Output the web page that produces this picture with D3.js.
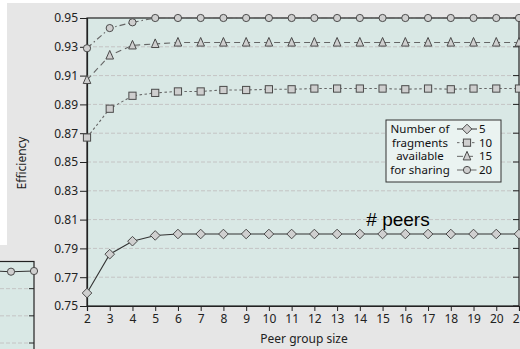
<!DOCTYPE html>
<html>
<head>
<meta charset="utf-8">
<script src="https://cdn.jsdelivr.net/npm/d3@7"></script>
<style>
  html, body { margin: 0; padding: 0; background: #fff; }
  svg { display: block; font-family: "Noto Sans", sans-serif; }
</style>
</head>
<body>
<div id="chart"></div>
<script>
// peer group sizes on the x axis
const peerSizes = [2,3,4,5,6,7,8,9,10,11,12,13,14,15,16,17,18,19,20,21];

// efficiency per number of fragments available for sharing
const eff5  = [0.759,0.786,0.795,0.799,0.800,0.800,0.800,0.800,0.800,0.800,0.800,0.800,0.800,0.800,0.800,0.800,0.800,0.800,0.800,0.800];
const eff10 = [0.867,0.887,0.896,0.898,0.899,0.899,0.900,0.900,0.9005,0.9005,0.901,0.901,0.901,0.901,0.9005,0.901,0.9005,0.901,0.901,0.901];
const eff15 = [0.907,0.924,0.931,0.932,0.933,0.933,0.933,0.933,0.933,0.933,0.933,0.933,0.933,0.933,0.933,0.933,0.933,0.933,0.933,0.933];
const eff20 = [0.929,0.943,0.947,0.950,0.950,0.950,0.950,0.950,0.950,0.950,0.950,0.950,0.950,0.950,0.950,0.950,0.950,0.950,0.950,0.950];

const yTicks = [0.75,0.77,0.79,0.81,0.83,0.85,0.87,0.89,0.91,0.93,0.95];
const legendLines = ["Number of","fragments","available","for sharing"];

// piece of the neighbouring chart peeking in at bottom-left
const insetSizes = [19,20];
const insetVals = [0.7825,0.783];
const insetTicks = [0.73,0.75,0.77];

const series = [
  {name:"5",  values:eff5,  dash:null,        shape:"diamond",  stroke:"#333"},
  {name:"10", values:eff10, dash:"2.5,2.5",   shape:"square",   stroke:"#666"},
  {name:"15", values:eff15, dash:"6,4",       shape:"triangle", stroke:"#666"},
  {name:"20", values:eff20, dash:"6,3,1.5,3", shape:"circle",   stroke:"#666"}
];

const W = 520, H = 349;
const svg = d3.select("#chart").append("svg").attr("width", W).attr("height", H);

// page background
svg.append("rect").attr("width", W).attr("height", H).attr("fill", "#fff");
svg.append("rect").attr("x", 7).attr("y", 3).attr("width", W).attr("height", H).attr("fill", "#e6e6e6");
svg.append("rect").attr("x", 0).attr("y", 245).attr("width", 7).attr("height", H).attr("fill", "#e6e6e6");

const x = d3.scaleLinear().domain([2,21]).range([87,519]);
const y = d3.scaleLinear().domain([0.75,0.95]).range([306,18]);

// plot panel
svg.append("rect")
  .attr("x", x(2)).attr("y", y(0.95))
  .attr("width", x(21)-x(2)).attr("height", y(0.75)-y(0.95))
  .attr("fill", "#d9e8e5");

// grid
svg.append("g").selectAll("line").data(yTicks.slice(1,-1)).join("line")
  .attr("x1", x(2)).attr("x2", x(21))
  .attr("y1", d=>y(d)).attr("y2", d=>y(d))
  .attr("stroke", "#c4c4c4").attr("stroke-width", 1).attr("stroke-dasharray", "4,2");

// frame
svg.append("rect")
  .attr("x", x(2)).attr("y", y(0.95))
  .attr("width", x(21)-x(2)).attr("height", y(0.75)-y(0.95))
  .attr("fill", "none").attr("stroke", "#222").attr("stroke-width", 1.2);

// right side inner ticks
svg.append("g").selectAll("line").data(yTicks).join("line")
  .attr("x1", x(21)-6).attr("x2", x(21))
  .attr("y1", d=>y(d)).attr("y2", d=>y(d))
  .attr("stroke", "#222");

// axes
const yAxis = d3.axisLeft(y).tickValues(yTicks).tickFormat(d3.format(".2f")).tickSize(7).tickPadding(2);
const gy = svg.append("g").attr("transform", `translate(${x(2)},0)`).call(yAxis);
gy.select(".domain").attr("stroke", "#222").attr("stroke-width", 1.2);
gy.selectAll(".tick line").attr("stroke", "#222");
gy.selectAll("text").attr("font-size", 12).attr("fill", "#222").attr("font-family", "Noto Sans");

const xAxis = d3.axisBottom(x).tickValues(peerSizes).tickFormat(d3.format("d")).tickSize(5).tickPadding(3);
const gx = svg.append("g").attr("transform", `translate(0,${y(0.75)})`).call(xAxis);
gx.select(".domain").attr("stroke", "#222").attr("stroke-width", 1.2);
gx.selectAll(".tick line").attr("stroke", "#222");
gx.selectAll("text").attr("font-size", 12).attr("fill", "#222").attr("font-family", "Noto Sans");

svg.append("text").attr("x", 304).attr("y", 343).attr("text-anchor", "middle")
  .attr("font-size", 12).attr("fill", "#222").text("Peer group size");
svg.append("text").attr("transform", "translate(26,163) rotate(-90)").attr("text-anchor", "middle")
  .attr("font-size", 12).attr("fill", "#222").text("Efficiency");

// markers
function marker(sel, shape) {
  if (shape === "circle") {
    sel.append("circle").attr("r", 3.6);
  } else if (shape === "square") {
    sel.append("rect").attr("x", -3.6).attr("y", -3.6).attr("width", 7.2).attr("height", 7.2);
  } else if (shape === "diamond") {
    sel.append("path").attr("d", "M0,-4.8L4.8,0L0,4.8L-4.8,0Z");
  } else {
    sel.append("path").attr("d", "M0,-5L3.8,3.6L-3.8,3.6Z");
  }
  sel.selectAll("circle,rect,path").attr("fill", "#cfcfcf").attr("stroke", "#4a4a4a").attr("stroke-width", 1);
}

const line = d3.line().x((d,i)=>x(peerSizes[i])).y(d=>y(d));
series.forEach(s => {
  svg.append("path").datum(s.values)
    .attr("d", line).attr("fill", "none")
    .attr("stroke", s.stroke).attr("stroke-width", 1.1)
    .attr("stroke-dasharray", s.dash);
  svg.append("g").selectAll("g").data(s.values).join("g")
    .attr("transform", (d,i)=>`translate(${x(peerSizes[i])},${y(d)})`)
    .call(marker, s.shape);
});

// legend
const lg = svg.append("g");
lg.append("rect").attr("x", 386).attr("y", 120).attr("width", 115).attr("height", 62)
  .attr("fill", "#eaf3f1").attr("stroke", "#333").attr("stroke-width", 1);
const rowY = d3.scalePoint().domain(d3.range(4)).range([129,170]);
lg.selectAll("text.lab").data(legendLines).join("text").attr("class","lab")
  .attr("x", 420).attr("y", (d,i)=>rowY(i)).attr("dy", "0.35em")
  .attr("text-anchor", "middle").attr("font-size", 11.5).attr("fill", "#111").text(d=>d);
series.forEach((s,i) => {
  const r = lg.append("g").attr("transform", `translate(0,${rowY(i)})`);
  r.append("line").attr("x1", 457).attr("x2", 477).attr("stroke", s.stroke).attr("stroke-width", 1)
    .attr("stroke-dasharray", s.dash);
  r.append("g").attr("transform", "translate(467,0)").call(marker, s.shape);
  r.append("text").attr("x", 479).attr("dy", "0.35em").attr("font-size", 11.5).attr("fill", "#111").text(s.name);
});

// annotation
svg.append("text").attr("x", 398).attr("y", 226).attr("text-anchor", "middle")
  .attr("font-family", "Liberation Sans, Arial, sans-serif").attr("font-size", 19).attr("fill", "#000")
  .text("# peers");

// inset fragment of the adjacent chart
const ix = d3.scaleLinear().domain(insetSizes).range([11,34]);
const iy = d3.scaleLinear().domain([0.73,0.79]).range([343,261.5]);
svg.append("rect").attr("x", -5).attr("y", iy(0.79)).attr("width", ix(20)+5).attr("height", H)
  .attr("fill", "#d9e8e5").attr("stroke", "#222").attr("stroke-width", 1.2);
svg.append("g").selectAll("line").data(insetTicks).join("line")
  .attr("x1", 0).attr("x2", ix(20)-5).attr("y1", d=>iy(d)).attr("y2", d=>iy(d))
  .attr("stroke", "#c4c4c4").attr("stroke-dasharray", "4,2");
svg.append("g").selectAll("line").data(insetTicks).join("line")
  .attr("x1", ix(20)-5).attr("x2", ix(20)).attr("y1", d=>iy(d)).attr("y2", d=>iy(d))
  .attr("stroke", "#222");
svg.append("path").datum(insetVals)
  .attr("d", d3.line().x((d,i)=>ix(insetSizes[i])).y(d=>iy(d)))
  .attr("fill", "none").attr("stroke", "#333").attr("stroke-width", 1.1);
svg.append("path").attr("d", `M0,${iy(insetVals[0])-0.5}L${ix(19)},${iy(insetVals[0])}`)
  .attr("stroke", "#333").attr("stroke-width", 1.1);
svg.append("g").selectAll("g").data(insetVals).join("g")
  .attr("transform", (d,i)=>`translate(${ix(insetSizes[i])},${iy(d)})`)
  .call(marker, "circle");
</script>
</body>
</html>
